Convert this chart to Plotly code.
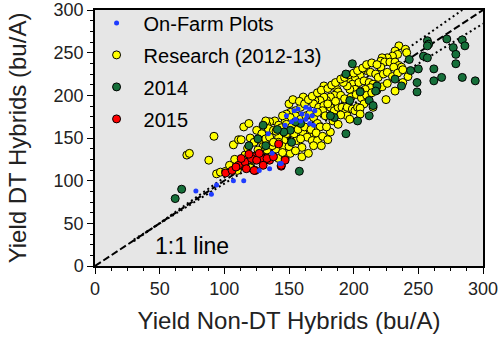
import plotly.graph_objects as go

# ---------------- data ----------------
research_x = [235,240,241,232,234,230,226,222,221,224,228,232,235,237,231,221,210,206,213,217,
              219,223,226,205,201,196,199,204,208,212,215,213,209,205,201,197,195,192,177,187,
              188,185,182,179,177,174,170,169,173,177,182,185,188,191,194,195,199,201,203,195,
              197,161,159,155,151,148,155,151,147,145,159,163,166,169,172,174,169,166,161,164,
              168,172,175,169,160,156,159,154,148,146,182,179,
              139,135,133,132,134,138,142,125,129,128,132,135,142,125,123,128,137,142,147,151,160,165,
              71,73,88,92,94,97,101,107,111,113,115,119,116,
              120,118,123,113,108,104,145,140,142,133,137,110,120,
              150,153,158,162,165,168,172,175,180,183,186,190,193,196,200,203,207,210,214,218,
              190,193,186,180,176,172,178,184,188,190,198,202,206,210,214,218,222,226,230,234,
              238,208,205,140,144,148,152,157,162,167,171,176,180,150,155,145,138,130,126,
              205,215,225,232,238,242]
research_y = [258,254,250,252,248,246,244,244,240,239,239,239,235,233,233,233,229,229,227,225,
              221,225,227,223,219,217,213,215,217,215,213,209,207,205,207,207,211,215,211,207,
              204,200,198,194,198,194,194,190,186,188,186,182,186,186,182,186,184,182,186,176,
              172,198,186,182,180,178,176,174,169,176,172,176,178,174,167,163,159,155,155,151,
              147,147,141,141,139,147,149,155,155,147,157,163,
              170,169,165,170,161,159,165,159,155,147,149,151,151,130,124,135,130,126,126,132,128,132,
              130,132,124,152,108,110,111,142,148,148,163,167,130,
              150,138,145,120,125,118,140,137,145,136,141,112,115,
              190,195,193,190,195,199,203,206,208,212,215,219,221,224,226,229,232,236,238,236,
              200,196,193,190,182,180,176,170,166,177,198,201,197,200,203,206,210,214,222,226,
              230,190,185,158,162,166,163,160,163,160,156,152,148,140,135,133,145,140,136,
              178,186,195,205,215,222]

y2014_x = [257,258,257,272,277,279,279,284,286,284,294,268,262,262,249,249,237,232,244,250,
           254,257,243,199,194,218,217,212,205,197,215,212,203,194,185,182,159,155,151,146,
           152,158,130,126,132,62,67,141,119]
y2014_y = [264,260,258,266,256,248,237,265,258,221,217,221,217,231,215,204,211,219,229,231,
           246,244,242,237,225,211,205,194,204,194,188,176,170,155,174,176,167,169,159,157,
           145,111,165,149,141,79,90,160,141]

y2015_x = [101,111,116,123,117,124,129,135,144,121,125,133,123,142,144,106,113,119,130,138,127,109,147]
y2015_y = [109,118,122,128,114,112,126,124,117,126,124,126,112,143,118,112,126,131,118,128,132,116,124]

farm_x = [154,157,163,166,170,168,164,160,155,152,159,163,166,169,148,147,134,135,144,78,90,94,107,115,127,137,143]
farm_y = [182,184,186,184,182,176,176,178,172,169,170,172,167,165,176,165,155,114,120,88,84,95,100,100,112,132,120]

one_x = [0, 300]
one_y = [0, 300]
upper_x = [30, 284]
upper_y = [29, 300]
lower_x = [30, 300]
lower_y = [31, 284]

x_ticks = [0, 50, 100, 150, 200, 250, 300]
y_ticks = [0, 50, 100, 150, 200, 250, 300]

FONT = "Liberation Sans, Arial, sans-serif"

fig = go.Figure()

# reference lines
fig.add_trace(go.Scatter(x=upper_x, y=upper_y, mode="lines", showlegend=False, hoverinfo="skip",
                         legendgroup="z", line=dict(color="black", width=2, dash="2px,3px")))
fig.add_trace(go.Scatter(x=lower_x, y=lower_y, mode="lines", showlegend=False, hoverinfo="skip",
                         legendgroup="z", line=dict(color="black", width=2, dash="2px,3px")))
fig.add_trace(go.Scatter(x=one_x, y=one_y, mode="lines", showlegend=False, hoverinfo="skip",
                         legendgroup="z", line=dict(color="black", width=2, dash="7px,3px")))

outline = dict(color="black", width=1)
fig.add_trace(go.Scatter(x=research_x, y=research_y, mode="markers", name="Research (2012-13)",
                         legendrank=2, legendgroup="b",
                         marker=dict(color="#ffff00", size=8, line=outline)))
fig.add_trace(go.Scatter(x=y2014_x, y=y2014_y, mode="markers", name="2014",
                         legendrank=3, legendgroup="c",
                         marker=dict(color="#16703a", size=8, line=outline)))
fig.add_trace(go.Scatter(x=y2015_x, y=y2015_y, mode="markers", name="2015",
                         legendrank=4, legendgroup="d",
                         marker=dict(color="#ff0000", size=8, line=outline)))
fig.add_trace(go.Scatter(x=farm_x, y=farm_y, mode="markers", name="On-Farm Plots",
                         legendrank=1, legendgroup="a",
                         marker=dict(color="#1f3cff", size=5, line=dict(width=0))))

fig.add_annotation(x=75, y=24, xref="x", yref="y", text="1:1 line", showarrow=False,
                   font=dict(family=FONT, size=23, color="black"))

axis_common = dict(range=[0, 300], ticks="outside", ticklen=6, tickwidth=1.2, tickcolor="black",
                   showline=True, linecolor="black", linewidth=1.5, mirror=True,
                   showgrid=False, zeroline=False, ticklabeloverflow="allow",
                   tickfont=dict(family=FONT, size=18, color="#222"),
                   minor=dict(ticks="outside", ticklen=3, tickwidth=1, tickcolor="black", dtick=12.5,
                              showgrid=False))

fig.update_xaxes(**axis_common, tickvals=x_ticks,
                 title=dict(text="Yield Non-DT Hybrids (bu/A)", font=dict(family=FONT, size=24, color="#222"),
                            standoff=14))
fig.update_yaxes(**axis_common, tickvals=y_ticks,
                 title=dict(text="Yield DT Hybrids (bu/A)", font=dict(family=FONT, size=24, color="#222"),
                            standoff=20))

fig.update_layout(
    width=500, height=340,
    margin=dict(l=95, r=17, t=10, b=74, autoexpand=False),
    paper_bgcolor="white", plot_bgcolor="#e6e6e6",
    showlegend=True,
    legend=dict(x=-0.014, y=0.99, xanchor="left", yanchor="top", yref="container",
                bgcolor="rgba(0,0,0,0)",
                font=dict(family=FONT, size=20, color="black"), itemwidth=44,
                tracegroupgap=3, traceorder="grouped"),
)

fig.write_html("out.html")
